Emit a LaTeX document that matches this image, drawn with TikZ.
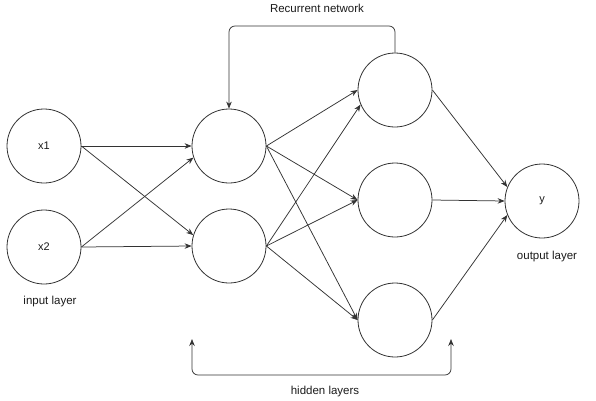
\documentclass[tikz,border=0pt]{standalone}
\usepackage{fontspec}
\setmainfont{Liberation Sans}
\usetikzlibrary{arrows.meta}
\definecolor{ln}{HTML}{333333}
\definecolor{tx}{HTML}{1a1a1a}
\begin{document}
\begin{tikzpicture}[x=1pt,y=-1pt,
  neuron/.style={circle,draw=ln,line width=0.8pt,minimum size=74pt,inner sep=0pt,font=\fontsize{11}{13}\selectfont,text=tx},
  conn/.style={draw=ln,line width=0.75pt,-{Stealth[length=7pt,width=5.5pt]}},
  lbl/.style={font=\fontsize{11.5}{13}\selectfont,text=tx}]
\useasboundingbox (0,0) rectangle (596,400);
\node[neuron] (x1) at (44,146) {x1};
\node[neuron] (x2) at (44,247) {x2};
\node[neuron] (h1) at (229,146) {};
\node[neuron] (h2) at (229,246) {};
\node[neuron] (h3) at (395,90) {};
\node[neuron] (h4) at (395,200) {};
\node[neuron] (h5) at (395,320) {};
\node[neuron] (y) at (542,201) {y};
\node[lbl] (tin) at (50,302) {input layer};
\node[lbl] (tout) at (547,257) {output layer};
\node[lbl] (trec) at (317,8) {Recurrent network};
\node[lbl] (thid) at (325,392) {hidden layers};
% input -> hidden 1
\draw[conn] (x1.east) -- (h1.west);
\draw[conn] (x1.east) -- (h2.163);
\draw[conn] (x2.east) -- (h1.198);
\draw[conn] (x2.east) -- (h2.west);
% hidden 1 -> hidden 2
\draw[conn] (h1.east) -- (h3.west);
\draw[conn] (h1.east) -- (h4.west);
\draw[conn] (h1.east) -- (h5.west);
\draw[conn] (h2.east) -- (h3.203);
\draw[conn] (h2.east) -- (h4.west);
\draw[conn] (h2.east) -- (h5.west);
% hidden 2 -> output
\draw[conn] (h3.east) -- (y.158);
\draw[conn] (h4.east) -- (y.west);
\draw[conn] (h5.east) -- (y.202);
% recurrent loop
\draw[conn,rounded corners=6pt] (h3.north) -- (395,26) -- (229,26) -- (h1.north);
% hidden layers bracket
\coordinate (bl) at (192,339);
\coordinate (br) at (451,339);
\draw[draw=ln,line width=0.75pt,{Stealth[length=7pt,width=5.5pt]}-{Stealth[length=7pt,width=5.5pt]},rounded corners=6pt] (bl) -- (192,375) -- (451,375) -- (br);
\end{tikzpicture}
\end{document}
